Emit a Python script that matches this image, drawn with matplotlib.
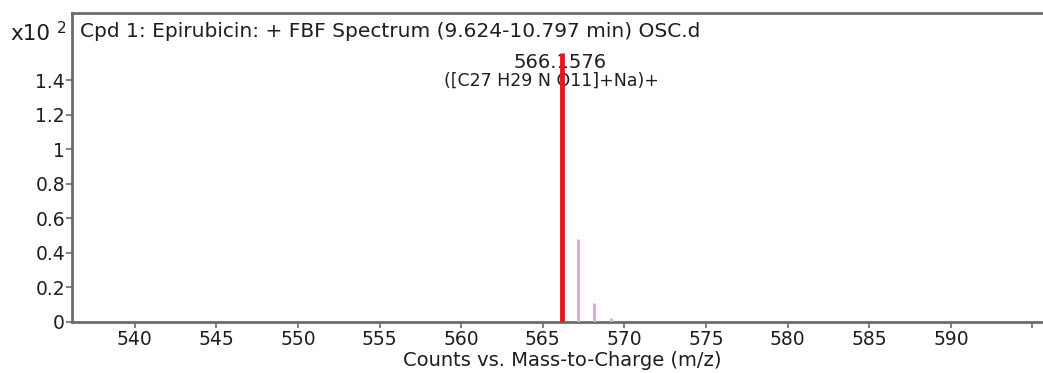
import matplotlib
matplotlib.use("Agg")
import matplotlib.pyplot as plt

plt.rcParams['font.family'] = ['DejaVu Sans']

# Spectrum peaks (m/z, counts x10^2)
main_mz = [566.1576]
main_counts = [1.56]
iso_mz = [567.16, 568.16, 569.16]
iso_counts = [0.478, 0.107, 0.023]

x_ticks = [540, 545, 550, 555, 560, 565, 570, 575, 580, 585, 590, 595]
x_tick_labels = ["540", "545", "550", "555", "560", "565", "570", "575", "580", "585", "590", ""]
y_ticks = [0, 0.2, 0.4, 0.6, 0.8, 1.0, 1.2, 1.4]
y_tick_labels = ["0", "0.2", "0.4", "0.6", "0.8", "1", "1.2", "1.4"]

title = "Cpd 1: Epirubicin: + FBF Spectrum (9.624-10.797 min) OSC.d"
peak_label = "566.1576"
formula_label = "([C27 H29 N O11]+Na)+"

fig = plt.figure(figsize=(10.43, 3.73), dpi=100)
ax = fig.add_axes([0.069, 0.137, 0.935, 0.828])

spine_color = "#6b6b6b"
text_color = "#1e1e1e"
fs = 13.5

ax.vlines(iso_mz, 0, iso_counts, color="#dba6e0", linewidth=2, zorder=3)
ax.vlines(main_mz, 0, main_counts, color="#e0191e", linewidth=3.5, zorder=4)

ax.set_xlim(536.15, 595.9)
ax.set_ylim(0, 1.79)
ax.set_xticks(x_ticks)
ax.set_xticklabels(x_tick_labels)
ax.set_yticks(y_ticks)
ax.set_yticklabels(y_tick_labels)
ax.tick_params(axis="both", labelsize=fs, color=spine_color, length=4, width=1.2,
               labelcolor=text_color)
ax.tick_params(axis="x", pad=2)
ax.tick_params(axis="y", pad=1)

for side in ["left", "bottom", "top"]:
    ax.spines[side].set_color(spine_color)
    ax.spines[side].set_linewidth(2)
ax.spines["right"].set_visible(False)

ax.set_xlabel("Counts vs. Mass-to-Charge (m/z)", fontsize=14, color=text_color, va="center")
ax.xaxis.set_label_coords(0.5026, -0.126)

# Header text and peak annotation
ax.text(0.0082, 0.939, title, transform=ax.transAxes, fontsize=14.5,
        ha="left", va="center", color=text_color)
ax.text(-0.0636, 0.932, "x10", transform=ax.transAxes, fontsize=15.5,
        ha="left", va="center", color=text_color)
ax.text(-0.0154, 0.951, "2", transform=ax.transAxes, fontsize=11,
        ha="left", va="center", color=text_color)
ax.text(main_mz[0] - 0.08, 1.505, peak_label, fontsize=14, ha="center",
        va="center", color=text_color, zorder=2)
ax.text(main_mz[0] - 0.65, 1.40, formula_label, fontsize=12.5, ha="center",
        va="center", color=text_color, zorder=2)

fig.savefig("out.png", dpi=100)
